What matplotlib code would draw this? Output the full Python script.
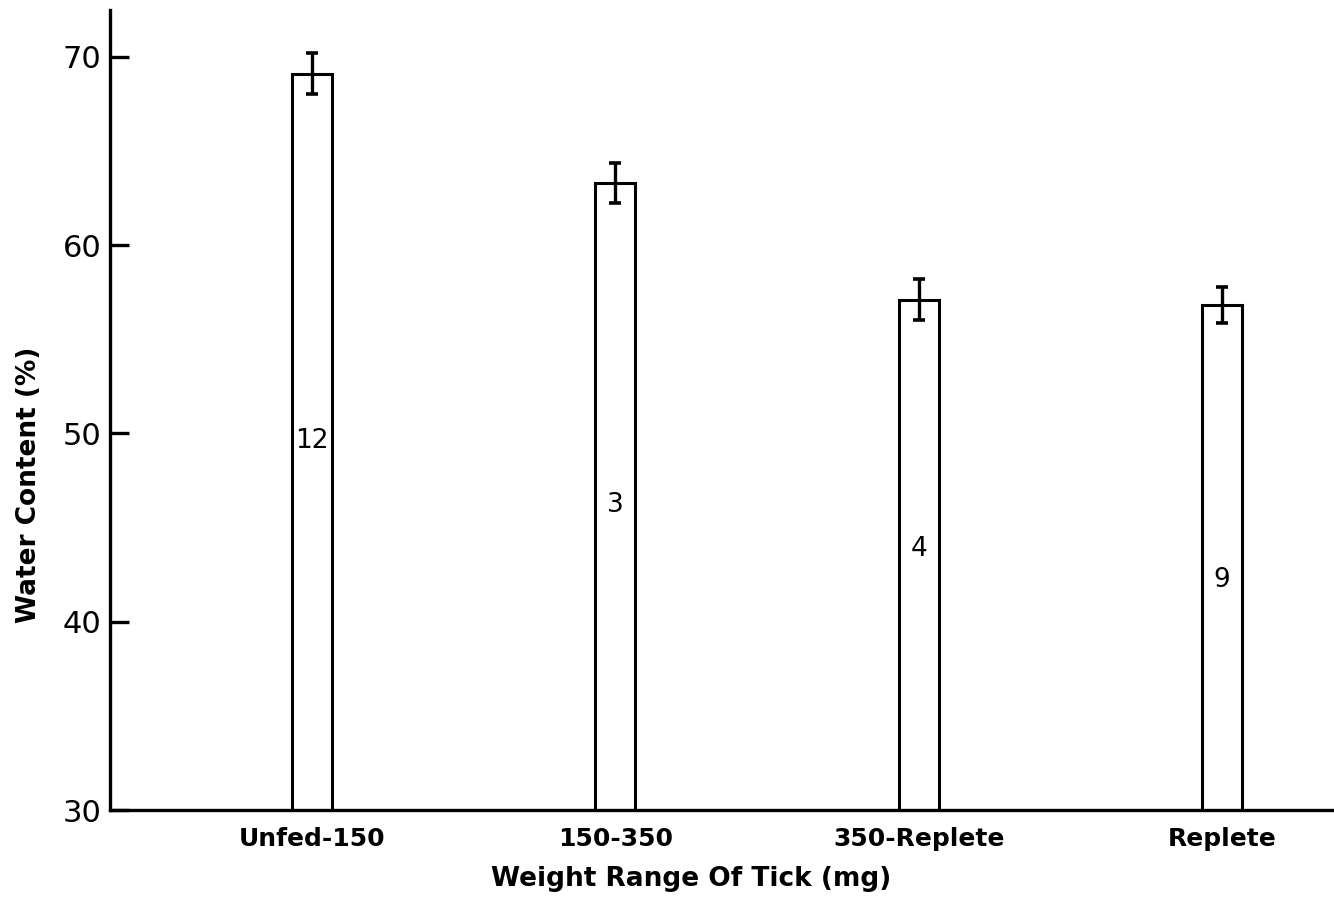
import matplotlib
matplotlib.use("Agg")
import matplotlib.pyplot as plt

categories = ["Unfed-150", "150-350", "350-Replete", "Replete"]
water_content = [69.1, 63.3, 57.1, 56.8]
std_error = [1.1, 1.05, 1.1, 0.95]
sample_n = ["12", "3", "4", "9"]
y_ticks = [30, 40, 50, 60, 70]

# layout (label heights inside bars)
n_label_y = [49.6, 46.2, 43.85, 42.2]

plt.rcParams['font.family'] = ['DejaVu Sans']

fig = plt.figure(figsize=(13.34, 9.07), dpi=100)
ax = fig.add_axes([0.0825, 0.1069, 0.9175, 0.882])

x = list(range(len(categories)))
ax.bar(x, water_content, width=0.132, color='white', edgecolor='black',
       linewidth=2.2, zorder=2)
ax.errorbar(x, water_content, yerr=std_error, fmt='none', ecolor='black',
            elinewidth=2.4, capsize=4.5, capthick=2.6, zorder=3)

for xi, lab, ly in zip(x, sample_n, n_label_y):
    ax.text(xi, ly, lab, ha='center', va='center', fontsize=19, zorder=4)

ax.set_xlim(-0.666, 3.369)
ax.set_ylim(30, 72.48)
ax.set_yticks(y_ticks)
ax.set_yticklabels([str(t) for t in y_ticks], fontsize=22)
ax.set_xticks(x)
ax.set_xticklabels(categories, fontsize=18, fontweight='bold')
ax.tick_params(axis='x', length=0, pad=12)
ax.tick_params(axis='y', direction='in', length=14, width=2.4, pad=6)

for s in ['top', 'right']:
    ax.spines[s].set_visible(False)
for s in ['left', 'bottom']:
    ax.spines[s].set_linewidth(2.4)

ax.set_xlabel("Weight Range Of Tick (mg)", fontsize=19, fontweight='bold')
ax.xaxis.set_label_coords(0.475, -0.07)
ax.set_ylabel("Water Content (%)", fontsize=19, fontweight='bold')
ax.yaxis.set_label_coords(-0.0556, 0.406)

fig.savefig("out.png", dpi=100)
